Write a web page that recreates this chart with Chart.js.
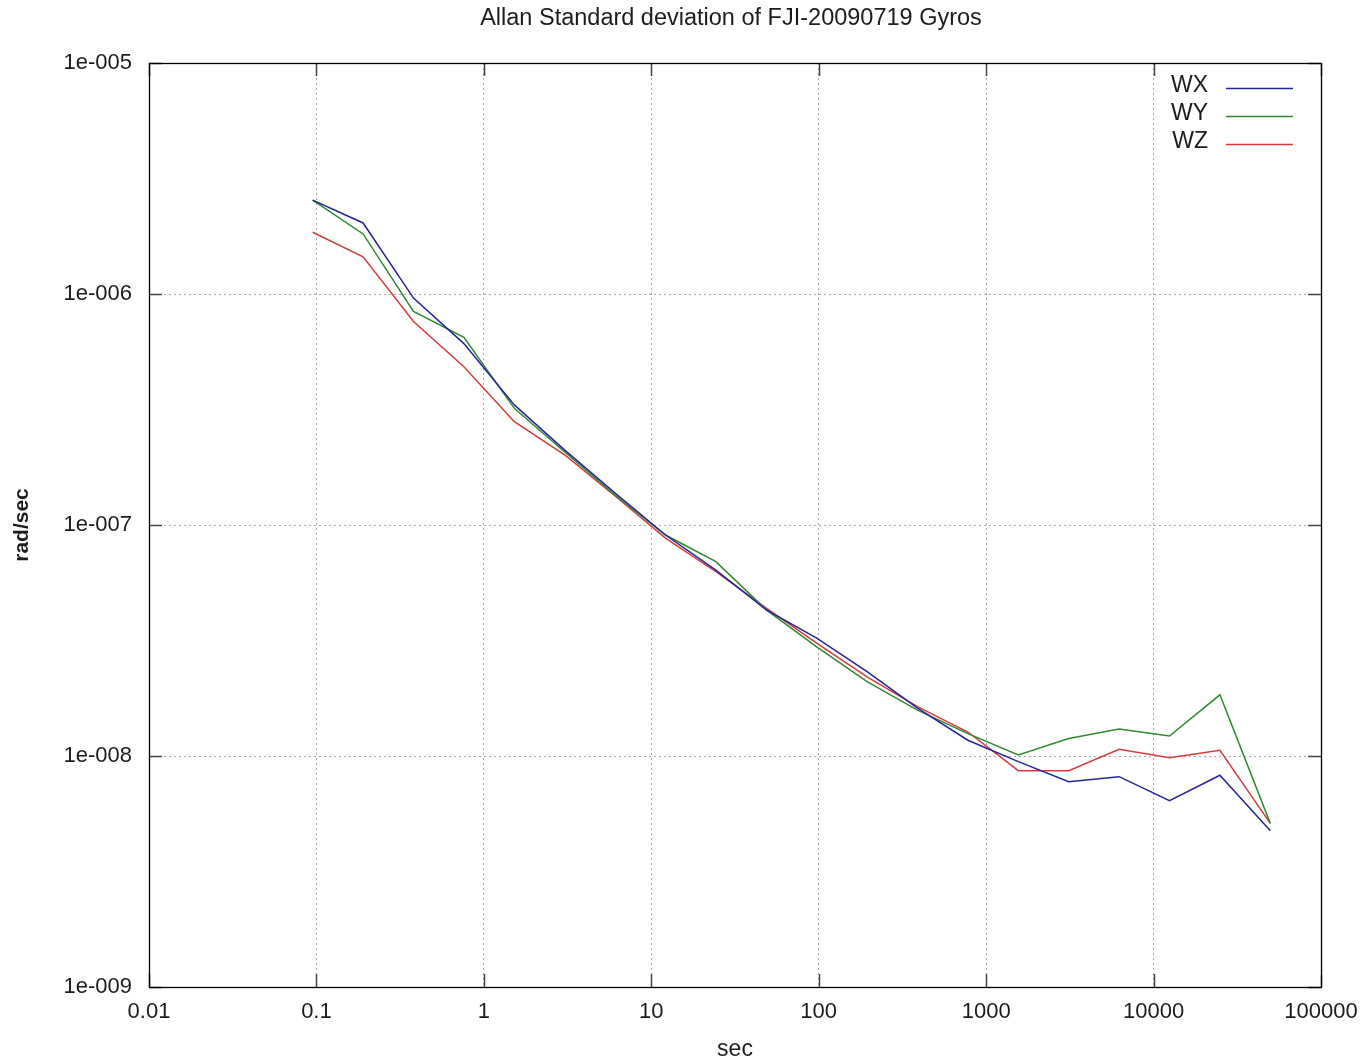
<!DOCTYPE html>
<html>
<head>
<meta charset="utf-8">
<script src="https://cdn.jsdelivr.net/npm/chart.js@4"></script>
<style>
  html, body { margin: 0; padding: 0; background: #ffffff; }
  #wrap { width: 1361px; height: 1064px; position: relative; }
</style>
</head>
<body>
<div id="wrap"><canvas id="c"></canvas></div>
<script>
// ---- data ----
const chartTitle = 'Allan Standard deviation of FJI-20090719 Gyros';
const xTitle = 'sec';
const yTitle = 'rad/sec';
const seriesNames = ['WX', 'WY', 'WZ'];
const tau = [0.095, 0.19, 0.38, 0.76, 1.52, 3.04, 6.08, 12.16, 24.32, 48.64,
             97.28, 194.56, 389.12, 778.24, 1556.48, 3112.96, 6225.92, 12451.84, 24903.68, 49807.36];
const wx = [2.55e-6, 2.03e-6, 9.6e-7, 6.1e-7, 3.31e-7, 2.11e-7, 1.375e-7, 9.05e-8, 6.38e-8, 4.29e-8,
            3.24e-8, 2.32e-8, 1.61e-8, 1.17e-8, 9.45e-9, 7.74e-9, 8.14e-9, 6.40e-9, 8.25e-9, 4.75e-9];
const wy = [2.55e-6, 1.82e-6, 8.4e-7, 6.5e-7, 3.20e-7, 2.07e-7, 1.35e-7, 9.05e-8, 6.94e-8, 4.29e-8,
            2.97e-8, 2.10e-8, 1.58e-8, 1.25e-8, 1.01e-8, 1.19e-8, 1.31e-8, 1.22e-8, 1.84e-8, 5.11e-9];
const wz = [1.85e-6, 1.45e-6, 7.6e-7, 4.84e-7, 2.80e-7, 2.01e-7, 1.335e-7, 8.78e-8, 6.28e-8, 4.37e-8,
            3.08e-8, 2.20e-8, 1.635e-8, 1.27e-8, 8.64e-9, 8.64e-9, 1.07e-8, 9.83e-9, 1.058e-8, 5.11e-9];
const xTickValues = [0.01, 0.1, 1, 10, 100, 1000, 10000, 100000];
const xTickLabels = ['0.01', '0.1', '1', '10', '100', '1000', '10000', '100000'];
const yTickValues = [1e-9, 1e-8, 1e-7, 1e-6, 1e-5];
const yTickLabels = ['1e-009', '1e-008', '1e-007', '1e-006', '1e-005'];
// --------------------------------------

const colors = ['#24249c', '#2f8a2f', '#d43c3c'];
const seriesData = [wx, wy, wz];
const FONT = '"Liberation Sans", Arial, Helvetica, sans-serif';
const TEXT = '#1c1c1c';

const datasets = seriesNames.map((name, i) => ({
  label: name,
  data: tau.map((t, j) => ({ x: t, y: seriesData[i][j] })),
  borderColor: colors[i],
  backgroundColor: colors[i],
  borderWidth: 1.5,
  pointRadius: 0,
  tension: 0,
  fill: false
}));

const framePlugin = {
  id: 'frame',
  afterDraw(chart) {
    const { ctx, chartArea: a, scales } = chart;
    ctx.save();
    // inward ticks (mirrored)
    const tl = 13;
    ctx.strokeStyle = '#444';
    ctx.lineWidth = 1.5;
    ctx.beginPath();
    xTickValues.forEach(v => {
      const px = Math.round(scales.x.getPixelForValue(v)) + 0.5;
      ctx.moveTo(px, a.bottom); ctx.lineTo(px, a.bottom - tl);
      ctx.moveTo(px, a.top); ctx.lineTo(px, a.top + tl);
    });
    yTickValues.forEach(v => {
      const py = Math.round(scales.y.getPixelForValue(v)) + 0.5;
      ctx.moveTo(a.left, py); ctx.lineTo(a.left + tl, py);
      ctx.moveTo(a.right, py); ctx.lineTo(a.right - tl, py);
    });
    ctx.stroke();
    // frame
    ctx.strokeStyle = '#000';
    ctx.lineWidth = 1.3;
    ctx.strokeRect(Math.round(a.left) + 0.5, Math.round(a.top) + 0.5,
                   Math.round(a.right - a.left), Math.round(a.bottom - a.top));
    // title
    ctx.fillStyle = TEXT;
    ctx.font = '23.5px ' + FONT;
    ctx.textAlign = 'center';
    ctx.textBaseline = 'middle';
    ctx.fillText(chartTitle, (a.left + a.right) / 2 - 4, 19);
    // legend (text right-aligned, then line sample)
    ctx.font = '23px ' + FONT;
    ctx.textAlign = 'right';
    chart.data.datasets.forEach((ds, i) => {
      const y = a.top + 25 + i * 28;
      ctx.fillStyle = TEXT;
      ctx.fillText(ds.label, a.right - 113, y - 2);
      ctx.strokeStyle = ds.borderColor;
      ctx.lineWidth = 1.5;
      ctx.beginPath();
      ctx.moveTo(a.right - 95, y + 0.5);
      ctx.lineTo(a.right - 28, y + 0.5);
      ctx.stroke();
    });
    ctx.restore();
  }
};

new Chart(document.getElementById('c'), {
  type: 'line',
  data: { datasets },
  options: {
    responsive: true,
    maintainAspectRatio: false,
    animation: false,
    events: [],
    layout: { padding: { left: 0, right: 40, top: 63, bottom: 0 } },
    plugins: { legend: { display: false }, title: { display: false }, tooltip: { enabled: false } },
    scales: {
      x: {
        type: 'logarithmic',
        position: 'bottom',
        min: 0.01,
        max: 100000,
        afterBuildTicks(scale) { scale.ticks = xTickValues.map(v => ({ value: v })); },
        afterFit(scale) { scale.height = 77; scale.paddingLeft = 0; scale.paddingRight = 0; },
        ticks: {
          autoSkip: false,
          maxRotation: 0,
          padding: 12,
          color: TEXT,
          font: { family: FONT, size: 22 },
          callback(value) { const i = xTickValues.indexOf(value); return i >= 0 ? xTickLabels[i] : ''; }
        },
        grid: { color: '#a8a8a8', lineWidth: 1, drawTicks: false },
        border: { display: false, dash: [2, 3] },
        title: { display: true, text: xTitle, color: TEXT, font: { family: FONT, size: 23 }, padding: { top: 0, bottom: 1 } }
      },
      y: {
        type: 'logarithmic',
        position: 'left',
        min: 1e-9,
        max: 1e-5,
        afterBuildTicks(scale) { scale.ticks = yTickValues.map(v => ({ value: v })); },
        afterFit(scale) { scale.width = 149; scale.paddingTop = 0; scale.paddingBottom = 0; },
        ticks: {
          autoSkip: false,
          padding: 17,
          color: TEXT,
          font: { family: FONT, size: 22 },
          callback(value) { const i = yTickValues.indexOf(value); return i >= 0 ? yTickLabels[i] : ''; }
        },
        grid: { color: '#a8a8a8', lineWidth: 1, drawTicks: false },
        border: { display: false, dash: [2, 3] },
        title: { display: true, text: yTitle, color: TEXT, font: { family: FONT, size: 21, weight: 'bold' }, padding: { top: 10, bottom: 0 } }
      }
    }
  },
  plugins: [framePlugin]
});
</script>
</body>
</html>
